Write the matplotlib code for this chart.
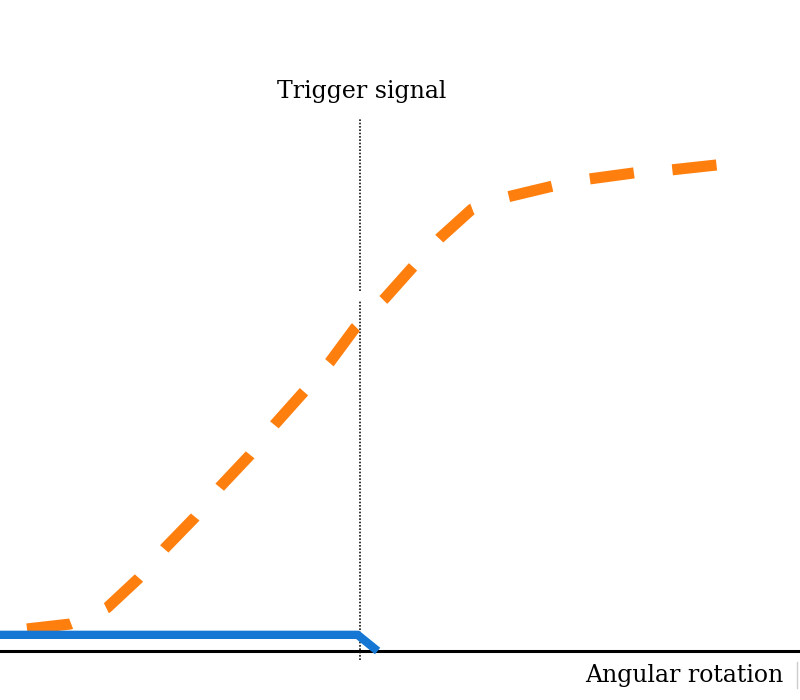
import matplotlib
matplotlib.use("Agg")
import matplotlib.pyplot as plt

# angular rotation (arbitrary units) and response
x_curva = [0.3375, 0.875, 1.1, 1.3375, 1.725, 2.0625, 2.4375, 2.75, 3.125, 3.4375,
           3.7875, 4.125, 4.4375, 4.8125, 5.1625, 5.5, 5.9, 6.125, 6.35, 6.9125,
           7.35, 7.9375, 8.4, 8.9625]
y_curva = [0.045, 0.055, 0.069, 0.088, 0.147, 0.210, 0.273, 0.335, 0.400, 0.463,
           0.527, 0.590, 0.659, 0.720, 0.784, 0.843, 0.902, 0.916, 0.927, 0.949,
           0.963, 0.976, 0.982, 0.992]

x_senal = [0.0, 4.47, 4.72]
y_senal = [0.033, 0.033, 0.0]

x_trigger = 4.5

fig = plt.figure(figsize=(8, 7), dpi=100)
ax = fig.add_axes([0, 0, 1, 1])
ax.set_xlim(0, 10)
ax.set_ylim(-0.1, 1.3286)
ax.axis("off")

ax.axhline(0, color="black", lw=2.2, zorder=1)
# dotted trigger line, interrupted where the curve passes
for y0, y1 in [(-0.018, 0.714), (0.735, 1.088)]:
    ax.plot([x_trigger, x_trigger], [y0, y1], color="#111111", lw=1.2,
            ls=(0, (1.0, 1.0)), zorder=2)

ax.plot(x_curva, y_curva, color="#ff7f0e", lw=8, ls=(0, (4.0, 3.47)),
        solid_capstyle="butt", dash_capstyle="butt", zorder=3)
ax.plot(x_senal, y_senal, color="#1577d3", lw=6, solid_joinstyle="miter",
        solid_capstyle="butt", zorder=4)

ax.plot([9.96, 9.96], [-0.022, -0.075], color="#cccccc", lw=1)

ax.text(4.525, 1.141, "Trigger signal", family="DejaVu Serif",
        fontsize=17, ha="center", va="center")
ax.text(9.79, -0.049, "Angular rotation", family="DejaVu Serif",
        fontsize=17, ha="right", va="center")

fig.savefig("out.png", dpi=100)
